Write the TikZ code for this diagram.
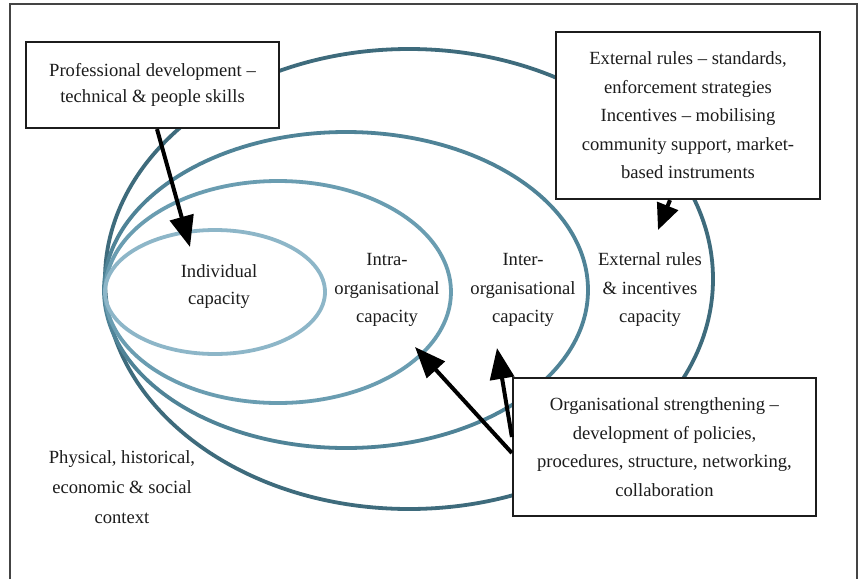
\documentclass[tikz,border=0pt]{standalone}
\usepackage{fontspec}
\setmainfont{Liberation Serif}
\usetikzlibrary{arrows.meta,calc}
\definecolor{ringone}{HTML}{8DB6C8}
\definecolor{ringtwo}{HTML}{6A9DB1}
\definecolor{ringthree}{HTML}{4F8397}
\definecolor{ringfour}{HTML}{3E6B7C}
\definecolor{ink}{HTML}{1C1C1C}
\definecolor{framegrey}{HTML}{444444}
\begin{document}
\begin{tikzpicture}[x=1pt,y=-1pt,
  ring/.style={line width=3.8pt},
  lbl/.style={align=center, text=ink, inner sep=0pt,
    font=\fontsize{18.6}{28.5}\selectfont},
  infobox/.style={draw=ink, fill=white, line width=2.2pt, align=center,
    text=ink, inner sep=0pt, font=\fontsize{18.6}{28.5}\selectfont},
  arr/.style={draw=black, line width=4pt,
    -{Triangle[length=31pt,width=24pt]}}]
\useasboundingbox (0,0) rectangle (860,579);
\fill[white] (0,0) rectangle (860,579);
% frame
\draw[framegrey, line width=1.6pt] (10,579) -- (10,4) -- (857,4) -- (857,579);

% nested capacity rings, all touching at the left
\draw[ring, ringfour]  (409,279) ellipse [x radius=304, y radius=230];
\draw[ring, ringthree] (346,290) ellipse [x radius=242, y radius=158];
\draw[ring, ringtwo]   (278,292) ellipse [x radius=173, y radius=111];
\draw[ring, ringone]   (215,292) ellipse [x radius=110, y radius=62];

% ring labels
\node[lbl, font=\fontsize{18.6}{27}\selectfont] (indiv) at (219,287) {Individual\\capacity};
\node[lbl] (intra) at (387,290) {Intra-\\organisational\\capacity};
\node[lbl] (inter) at (523,290) {Inter-\\organisational\\capacity};
\node[lbl] (extcap) at (650,290) {External rules\\\&{} incentives\\capacity};
\node[lbl, font=\fontsize{18.6}{30}\selectfont] (context) at (122,487) {Physical, historical,\\economic \&{} social\\context};

% intervention boxes
\node[infobox, minimum width=253pt, minimum height=86pt,
  font=\fontsize{18.6}{26}\selectfont] (prof) at (152.5,85)
  {Professional development --\\technical \&{} people skills};
\node[infobox, minimum width=264pt, minimum height=167pt] (ext) at (688,115.5)
  {External rules -- standards,\\enforcement strategies\\Incentives -- mobilising\\community support, market-\\based instruments};
\node[infobox, minimum width=303pt, minimum height=138pt] (org) at (664.5,447)
  {Organisational strengthening --\\development of policies,\\procedures, structure, networking,\\collaboration};

% arrow tips
\coordinate (tipindiv) at (190,247);
\coordinate (tipext) at (658,230);
\coordinate (tipintra) at (415,347);
\coordinate (tipinter) at (497,348);

\draw[arr] ($(prof.south)+(4.5,0)$) -- (tipindiv);
\draw[arr, -{Triangle[length=26pt,width=22pt]}] ($(ext.south)+(-18,0)$) -- (tipext);
\draw[arr] ($(org.west)+(0,6)$) -- (tipintra);
\draw[arr] ($(org.west)+(0,-10)$) -- (tipinter);
\end{tikzpicture}
\end{document}
